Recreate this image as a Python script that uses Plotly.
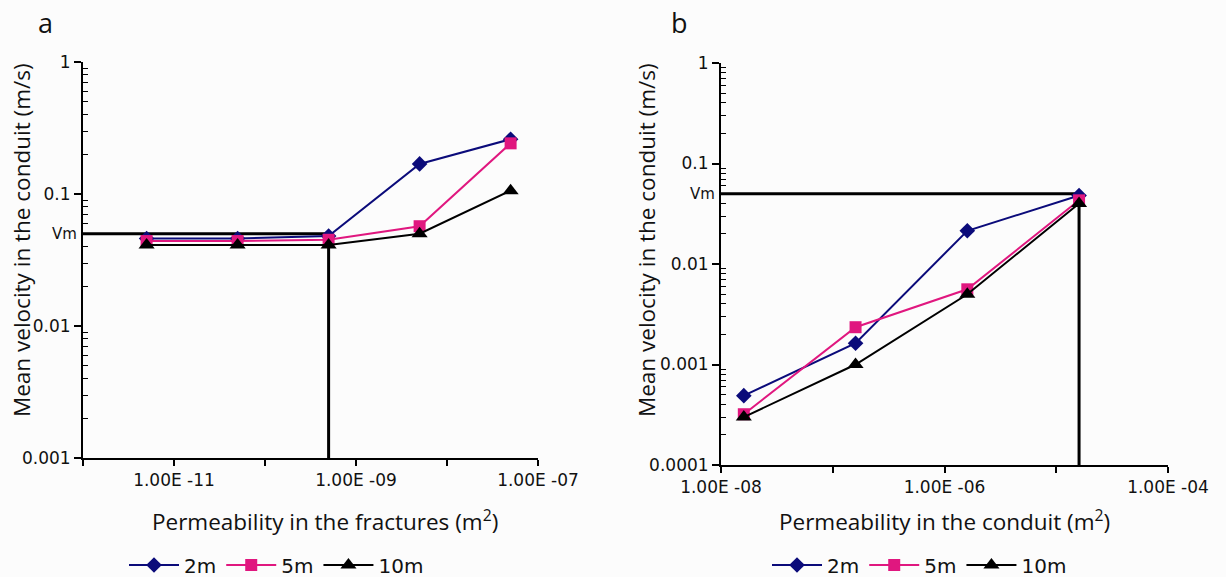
import math
import plotly.graph_objects as go

# ---------------- data ----------------
series_names = ["2m", "5m", "10m"]
series_colors = ["#0b0b7a", "#e0177f", "#000000"]
series_symbols = ["diamond", "square", "triangle-up"]
series_sizes = [12, 12, 14]

# panel a : permeability in the fractures
perm_fract = [5e-12, 5e-11, 5e-10, 5e-9, 5e-8]
vel_a_2m = [0.046, 0.046, 0.048, 0.169, 0.26]
vel_a_5m = [0.044, 0.044, 0.045, 0.057, 0.242]
vel_a_10m = [0.041, 0.041, 0.041, 0.050, 0.106]

# panel b : permeability in the conduit
perm_cond = [1.6e-8, 1.6e-7, 1.6e-6, 1.6e-5]
vel_b_2m = [0.00049, 0.00163, 0.0214, 0.048]
vel_b_5m = [0.00032, 0.00235, 0.0056, 0.043]
vel_b_10m = [0.00030, 0.0010, 0.0050, 0.040]

VM = 0.05
vm_cross_a = 5e-10
vm_cross_b = 1.6e-5

xa_range = [1e-12, 1e-7]
ya_range = [1e-3, 1]
xb_range = [1e-8, 1e-4]
yb_range = [1e-4, 1]

xa_ticks = [1e-11, 1e-9, 1e-7]
xa_labels = ["1.00E -11", "1.00E -09", "1.00E -07"]
xa_unlabeled = [1e-12, 1e-10, 1e-8]
xb_ticks = [1e-8, 1e-6, 1e-4]
xb_labels = ["1.00E -08", "1.00E -06", "1.00E -04"]
xb_unlabeled = [1e-7, 1e-5]
ya_ticks = [0.001, 0.01, 0.1, 1]
ya_labels = ["0.001", "0.01", "0.1", "1"]
yb_ticks = [0.0001, 0.001, 0.01, 0.1, 1]
yb_labels = ["0.0001", "0.001", "0.01", "0.1", "1"]

# ---------------- figure ----------------
W, H = 1226, 577
TICKFONT = dict(family="DejaVu Sans", size=17, color="#111")
TITLEFONT = dict(family="Open Sans", size=22.5, color="#111")
LEGFONT = dict(family="DejaVu Sans", size=20, color="#111")
BG = "#fcfcfc"


def minor_vals(lo_exp, hi_exp):
    return [k * 10 ** e for e in range(lo_exp, hi_exp) for k in range(2, 10)]


fig = go.Figure()

panel_a = [vel_a_2m, vel_a_5m, vel_a_10m]
panel_b = [vel_b_2m, vel_b_5m, vel_b_10m]

# Vm reference lines
fig.add_trace(go.Scatter(x=[xa_range[0], vm_cross_a, vm_cross_a], y=[VM, VM, ya_range[0]],
                         mode="lines", line=dict(color="black", width=3),
                         xaxis="x", yaxis="y", showlegend=False, hoverinfo="skip"))
fig.add_trace(go.Scatter(x=[xb_range[0], vm_cross_b, vm_cross_b], y=[VM, VM, yb_range[0]],
                         mode="lines", line=dict(color="black", width=3),
                         xaxis="x2", yaxis="y2", showlegend=False, hoverinfo="skip"))

for i, name in enumerate(series_names):
    fig.add_trace(go.Scatter(
        x=perm_fract, y=panel_a[i], name=name, mode="lines+markers",
        line=dict(color=series_colors[i], width=2),
        marker=dict(symbol=series_symbols[i], size=series_sizes[i], color=series_colors[i]),
        xaxis="x", yaxis="y", legend="legend"))
for i, name in enumerate(series_names):
    fig.add_trace(go.Scatter(
        x=perm_cond, y=panel_b[i], name=name, mode="lines+markers",
        line=dict(color=series_colors[i], width=2),
        marker=dict(symbol=series_symbols[i], size=series_sizes[i], color=series_colors[i]),
        xaxis="x2", yaxis="y2", legend="legend2"))

# plot-area pixel boxes
ax_a = dict(l=83, r=538, t=62, b=458)
ax_b = dict(l=721, r=1168, t=63, b=465)


def xdom(p):
    return [p["l"] / W, p["r"] / W]


def ydom(p):
    return [(H - p["b"]) / H, (H - p["t"]) / H]


def xaxis_cfg(p, rng, tv, tt, unl, anchor):
    return dict(domain=xdom(p), type="log", range=[math.log10(rng[0]), math.log10(rng[1])],
                anchor=anchor, automargin=False,
                tickmode="array", tickvals=tv, ticktext=tt, ticks="outside", ticklen=6,
                tickwidth=1.5, tickcolor="black", showline=True, linecolor="black", linewidth=2,
                showgrid=False, zeroline=False, tickfont=TICKFONT, fixedrange=True,
                minor=dict(tickmode="array", tickvals=unl, ticks="outside", ticklen=6,
                           tickwidth=1.5, tickcolor="black", showgrid=False))


def yaxis_cfg(p, rng, tv, tt, anchor):
    lo, hi = int(round(math.log10(rng[0]))), int(round(math.log10(rng[1])))
    return dict(domain=ydom(p), type="log", range=[lo, hi], anchor=anchor, automargin=False,
                tickmode="array", tickvals=tv, ticktext=tt, ticks="outside", ticklen=7,
                tickwidth=1.5, tickcolor="black", showline=True, linecolor="black", linewidth=2,
                showgrid=False, zeroline=False, tickfont=TICKFONT,
                minor=dict(tickmode="array", tickvals=minor_vals(lo, hi), ticks="inside",
                           ticklen=5, tickwidth=1.2, tickcolor="black", showgrid=False),
                fixedrange=True)


legend_common = dict(orientation="h", xanchor="left", yanchor="middle", font=LEGFONT,
                     bgcolor="rgba(0,0,0,0)", itemwidth=50,
                     itemclick=False, itemdoubleclick=False)

fig.update_layout(
    width=W, height=H, autosize=False,
    margin=dict(l=0, r=0, t=0, b=0, autoexpand=False),
    paper_bgcolor=BG, plot_bgcolor=BG,
    xaxis=xaxis_cfg(ax_a, xa_range, xa_ticks, xa_labels, xa_unlabeled, "y"),
    yaxis=yaxis_cfg(ax_a, ya_range, ya_ticks, ya_labels, "x"),
    xaxis2=xaxis_cfg(ax_b, xb_range, xb_ticks, xb_labels, xb_unlabeled, "y2"),
    yaxis2=yaxis_cfg(ax_b, yb_range, yb_ticks, yb_labels, "x2"),
    legend=dict(x=124 / W, y=(H - 565) / H, **legend_common),
    legend2=dict(x=767 / W, y=(H - 565) / H, **legend_common),
    showlegend=True,
)

ann = []
# panel letters
ann.append(dict(text="a", x=36 / W, y=(H - 22) / H, xref="paper", yref="paper",
                xanchor="left", yanchor="middle", showarrow=False,
                font=dict(family="Open Sans", size=27, color="#111")))
ann.append(dict(text="b", x=669 / W, y=(H - 22) / H, xref="paper", yref="paper",
                xanchor="left", yanchor="middle", showarrow=False,
                font=dict(family="Open Sans", size=27, color="#111")))
# axis titles
ann.append(dict(text="Permeability in the fractures (m<sup>2</sup>)", x=325 / W, y=(H - 520) / H,
                xref="paper", yref="paper", xanchor="center", yanchor="middle",
                showarrow=False, font=TITLEFONT))
ann.append(dict(text="Permeability in the conduit (m<sup>2</sup>)", x=944 / W, y=(H - 520) / H,
                xref="paper", yref="paper", xanchor="center", yanchor="middle",
                showarrow=False, font=TITLEFONT))
ann.append(dict(text="Mean velocity in the conduit (m/s)", x=21 / W, y=(H - 240) / H,
                xref="paper", yref="paper", xanchor="center", yanchor="middle",
                textangle=-90, showarrow=False, font=TITLEFONT))
ann.append(dict(text="Mean velocity in the conduit (m/s)", x=646 / W, y=(H - 240) / H,
                xref="paper", yref="paper", xanchor="center", yanchor="middle",
                textangle=-90, showarrow=False, font=TITLEFONT))
# Vm labels
ann.append(dict(text="Vm", x=79 / W, y=math.log10(VM), xref="paper", yref="y",
                xanchor="right", yanchor="middle", showarrow=False,
                font=dict(family="DejaVu Sans", size=15, color="#111")))
ann.append(dict(text="Vm", x=717 / W, y=math.log10(VM), xref="paper", yref="y2",
                xanchor="right", yanchor="middle", showarrow=False,
                font=dict(family="DejaVu Sans", size=15, color="#111")))
fig.update_layout(annotations=ann)

fig.write_html(
    "out.html",
    config={"displayModeBar": False},
    post_script="document.body.style.margin='0px';document.body.style.overflow='hidden';",
)
